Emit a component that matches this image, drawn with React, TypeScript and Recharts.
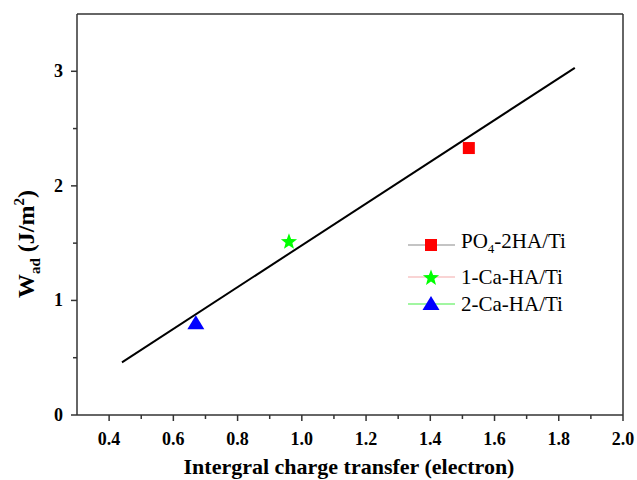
import { ScatterChart, Scatter, XAxis, YAxis, ReferenceLine } from "recharts";

const xTicks = [0.4, 0.5, 0.6, 0.7, 0.8, 0.9, 1.0, 1.1, 1.2, 1.3, 1.4, 1.5, 1.6, 1.7, 1.8, 1.9, 2.0];
const yTicks = [0, 0.5, 1, 1.5, 2, 2.5, 3];

const fitLine = [
  { x: 0.44, y: 0.46 },
  { x: 1.85, y: 3.03 }
];
const po4Points = [{ x: 1.52, y: 2.33 }];
const ca1Points = [{ x: 0.96, y: 1.52 }];
const ca2Points = [{ x: 0.67, y: 0.8 }];

const serif = "'Liberation Serif', 'Times New Roman', serif";
const axisColor = "#333";

function XTick(props: any) {
  const { x, y, payload } = props;
  const v = payload.value as number;
  const major = Math.round(v * 10) % 2 === 0;
  return (
    <g>
      <line x1={x} x2={x} y1={y} y2={y + (major ? 6 : 4)} stroke={axisColor} strokeWidth={1.5} />
      {major && (
        <text x={x} y={y + 30} textAnchor="middle" style={{ fontFamily: serif, fontWeight: "bold", fontSize: 18 }} fill="#000">
          {v.toFixed(1)}
        </text>
      )}
    </g>
  );
}

function YTick(props: any) {
  const { x, y, payload } = props;
  const v = payload.value as number;
  const major = Number.isInteger(v);
  return (
    <g>
      <line x1={x} x2={x - (major ? 6 : 4)} y1={y} y2={y} stroke={axisColor} strokeWidth={1.5} />
      {major && (
        <text x={x - 14} y={y + 6} textAnchor="end" style={{ fontFamily: serif, fontWeight: "bold", fontSize: 18 }} fill="#000">
          {v}
        </text>
      )}
    </g>
  );
}

const square = (cx: number, cy: number) => (
  <rect x={cx - 6} y={cy - 6} width={12} height={12} fill="#ff0000" />
);

const starPoints = (cx: number, cy: number, r: number) => {
  const pts: string[] = [];
  for (let i = 0; i < 10; i++) {
    const rad = i % 2 === 0 ? r : r * 0.42;
    const a = -Math.PI / 2 + (i * Math.PI) / 5;
    pts.push(`${cx + rad * Math.cos(a)},${cy + rad * Math.sin(a)}`);
  }
  return pts.join(" ");
};
const star = (cx: number, cy: number) => (
  <polygon points={starPoints(cx, cy + 1, 8.5)} fill="#00ff00" />
);

const triangle = (cx: number, cy: number) => (
  <polygon points={`${cx},${cy - 8} ${cx + 8.5},${cy + 6} ${cx - 8.5},${cy + 6}`} fill="#0000ff" />
);

const legendRows = [
  { center: 13, color: "#8a8a8a", marker: square, label: <>PO<sub style={{ fontSize: 13 }}>4</sub>-2HA/Ti</> },
  { center: 45, color: "#f4aaaa", marker: star, label: <>1-Ca-HA/Ti</> },
  { center: 72, color: "#44ee44", marker: triangle, label: <>2-Ca-HA/Ti</> }
];

function LegendBox() {
  return (
    <div style={{ position: "absolute", left: 405, top: 232, width: 220, height: 90 }}>
      {legendRows.map((r, i) => (
        <div key={i} style={{ position: "absolute", left: 0, top: r.center - 12, height: 24, display: "flex", alignItems: "center" }}>
          <svg width={52} height={24}>
            <line x1={3} x2={50} y1={12} y2={12} stroke={r.color} strokeWidth={1.2} />
            {r.marker(26, 12)}
          </svg>
          <span style={{ fontFamily: serif, fontSize: 21, color: "#000", marginLeft: 4, lineHeight: "24px", whiteSpace: "nowrap" }}>
            {r.label}
          </span>
        </div>
      ))}
    </div>
  );
}

export default function App() {
  return (
    <div style={{ position: "absolute", left: 0, top: 0, width: 637, height: 480, background: "#fff", fontFamily: serif }}>
      <ScatterChart width={637} height={480} margin={{ top: 14, right: 14, left: 0, bottom: 0 }}>
        <XAxis
          type="number"
          dataKey="x"
          domain={[0.3, 2.0]}
          ticks={xTicks}
          interval={0}
          height={65}
          tickSize={0}
          tickMargin={0}
          tickLine={false}
          tick={<XTick />}
          axisLine={{ stroke: axisColor, strokeWidth: 1.5 }}
          allowDataOverflow
          label={{
            content: () => (
              <text x={349} y={474} textAnchor="middle" style={{ fontFamily: serif, fontWeight: "bold", fontSize: 22 }} fill="#000">
                Intergral charge transfer (electron)
              </text>
            )
          }}
        />
        <YAxis
          type="number"
          dataKey="y"
          domain={[0, 3.5]}
          ticks={yTicks}
          interval={0}
          width={77}
          tickSize={0}
          tickMargin={0}
          tickLine={false}
          tick={<YTick />}
          axisLine={{ stroke: axisColor, strokeWidth: 1.5 }}
          allowDataOverflow
          label={{
            content: () => (
              <text
                transform="translate(34,244) rotate(-90)"
                textAnchor="middle"
                style={{ fontFamily: serif, fontWeight: "bold", fontSize: 24 }}
                fill="#000"
              >
                W<tspan dy={6} style={{ fontSize: 15 }}>ad</tspan>
                <tspan dy={-6}> (J/m</tspan>
                <tspan dy={-10} style={{ fontSize: 15 }}>2</tspan>
                <tspan dy={10}>)</tspan>
              </text>
            )
          }}
        />
        <ReferenceLine y={3.5} stroke={axisColor} strokeWidth={1.5} ifOverflow="visible" />
        <ReferenceLine x={2.0} stroke={axisColor} strokeWidth={1.5} ifOverflow="visible" />
        <Scatter
          data={fitLine}
          line={{ stroke: "#000", strokeWidth: 2 }}
          shape={() => <g />}
          isAnimationActive={false}
        />
        <Scatter data={po4Points} shape={(p: any) => square(p.cx, p.cy)} isAnimationActive={false} />
        <Scatter data={ca1Points} shape={(p: any) => star(p.cx, p.cy)} isAnimationActive={false} />
        <Scatter data={ca2Points} shape={(p: any) => triangle(p.cx, p.cy)} isAnimationActive={false} />
      </ScatterChart>
      <LegendBox />
    </div>
  );
}
